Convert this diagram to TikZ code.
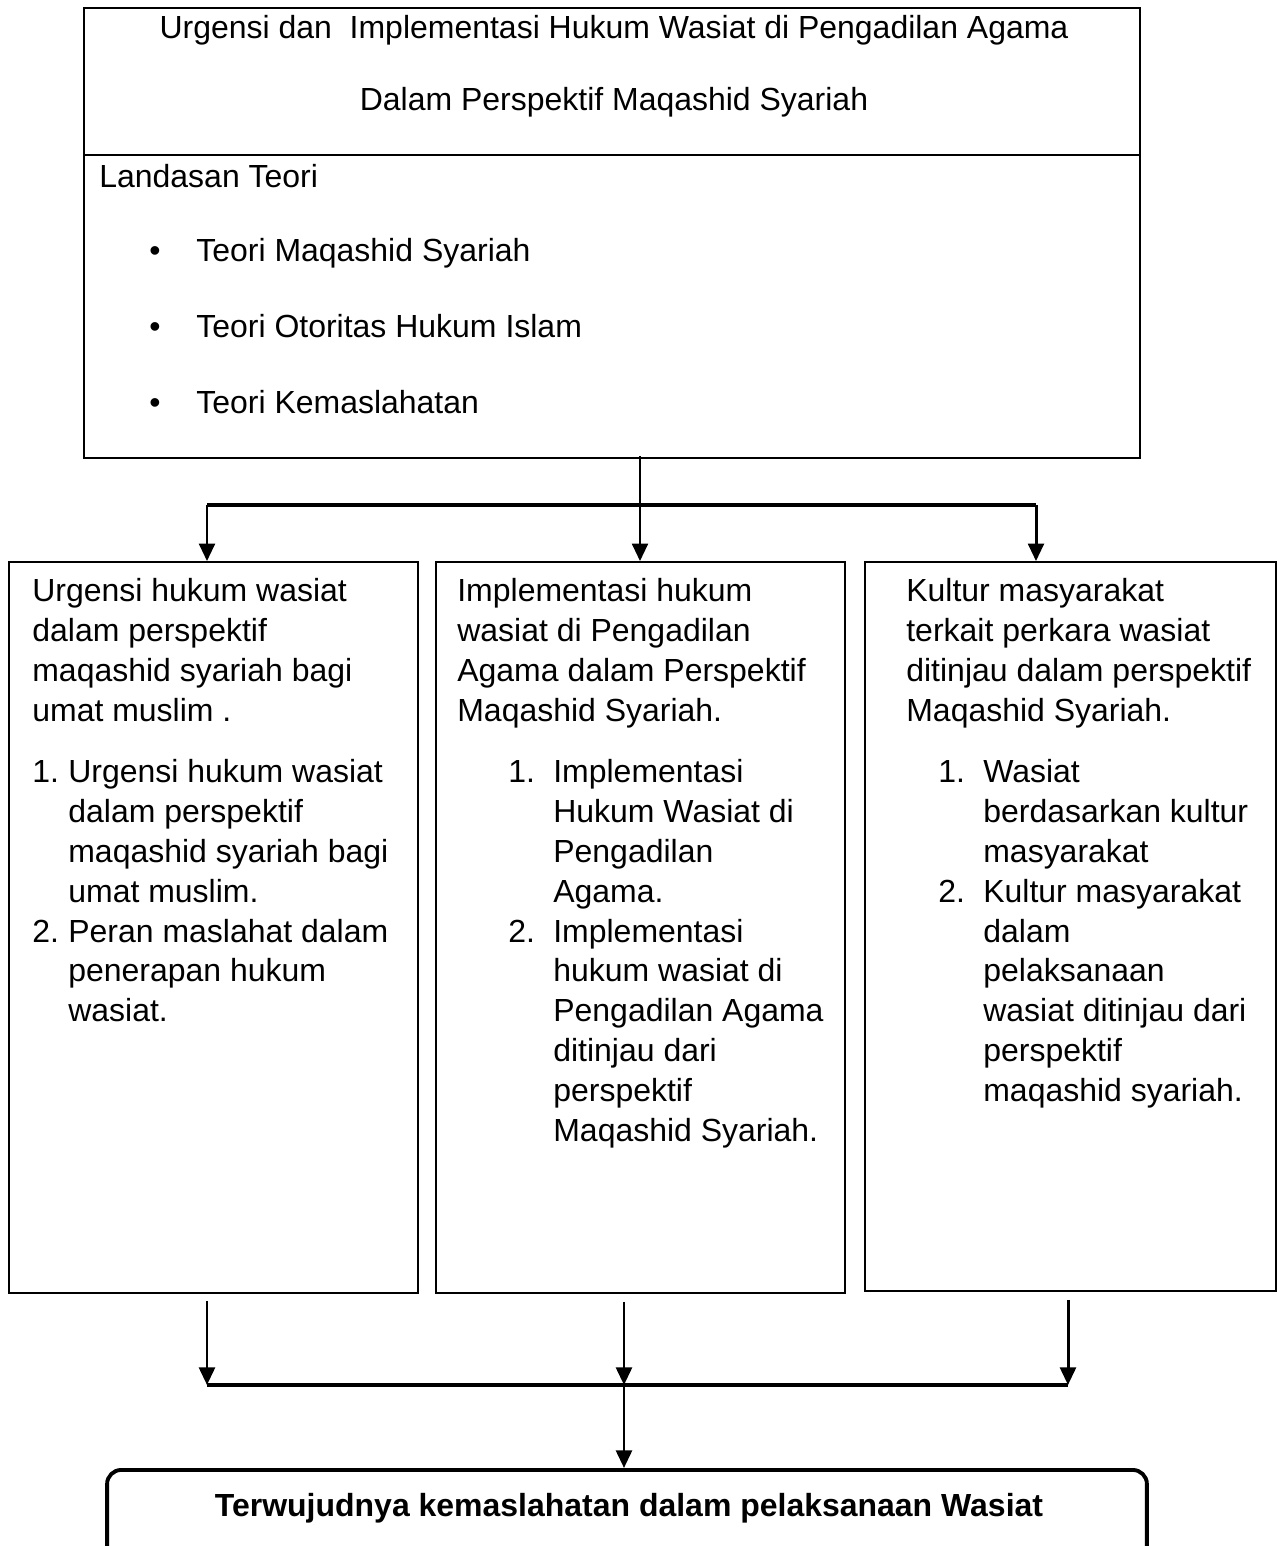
\documentclass[tikz,border=0pt]{standalone}
\usepackage{fontspec}
\setmainfont{Liberation Sans}
\usetikzlibrary{arrows.meta}

\newcommand{\rows}[1]{\begin{tabular}[t]{@{}l@{}}#1\end{tabular}}
\newcommand{\numrows}[2]{\begin{tabular}[t]{@{}p{#1}@{}l@{}}#2\end{tabular}}

\begin{document}
\begin{tikzpicture}[x=0.02cm, y=-0.02cm,
  panel/.style={draw, line width=1.1pt, minimum width=8.18cm, minimum height=14.62cm, inner sep=0pt},
  txt/.style={anchor=base west, inner sep=0pt, font=\fontsize{18.2pt}{22.7pt}\selectfont},
  wire/.style={line width=2.2pt},
  arr/.style={line width=1.7pt, -{Triangle[length=10pt,width=9pt]}}
]
  \useasboundingbox (0,0) rectangle (1277,1546);

  % top frame
  \node[draw, line width=1.1pt, minimum width=21.12cm, minimum height=9cm, inner sep=0pt] (frame) at (612,233) {};
  \coordinate (divL) at (84,155);
  \draw[line width=1.1pt] (divL) -- (divL -| frame.east);
  \node[txt, anchor=base] (title) at (614,38.5)
    {\begin{tabular}[t]{@{}c@{}}Urgensi dan\ \ Implementasi Hukum Wasiat di Pengadilan Agama\\[0.64cm]
     Dalam Perspektif Maqashid Syariah\end{tabular}};
  \node[txt] (theory) at (99,187.5) {Landasan Teori};
  \node[txt] (theories) at (149,261.5)
    {\numrows{0.94cm}{\textbullet & Teori Maqashid Syariah\\[0.72cm]
     \textbullet & Teori Otoritas Hukum Islam\\[0.72cm]
     \textbullet & Teori Kemaslahatan}};

  % three panels
  \node[panel] (urg) at (213.5,927.5) {};
  \node[panel] (impl) at (640.5,927.5) {};
  \node[panel, minimum width=8.22cm, minimum height=14.58cm] (kult) at (1070.5,926.5) {};

  \node[txt] (urgHead) at (32,601.5)
    {\rows{Urgensi hukum wasiat\\ dalam perspektif\\ maqashid syariah bagi\\ umat muslim .}};
  \node[txt] (urgList) at (32,782.5)
    {\numrows{0.72cm}{1. & Urgensi hukum wasiat\\ & dalam perspektif\\ & maqashid syariah bagi\\ & umat muslim.\\
     2. & Peran maslahat dalam\\ & penerapan hukum\\ & wasiat.}};

  \node[txt] (implHead) at (457,601.5)
    {\rows{Implementasi hukum\\ wasiat di Pengadilan\\ Agama dalam Perspektif\\ Maqashid Syariah.}};
  \node[txt] (implList) at (508,782.5)
    {\numrows{0.9cm}{1. & Implementasi\\ & Hukum Wasiat di\\ & Pengadilan\\ & Agama.\\
     2. & Implementasi\\ & hukum wasiat di\\ & Pengadilan Agama\\ & ditinjau dari\\ & perspektif\\ & Maqashid Syariah.}};

  \node[txt] (kultHead) at (906,601.5)
    {\rows{Kultur masyarakat\\ terkait perkara wasiat\\ ditinjau dalam perspektif\\ Maqashid Syariah.}};
  \node[txt] (kultList) at (938,782.5)
    {\numrows{0.9cm}{1. & Wasiat\\ & berdasarkan kultur\\ & masyarakat\\
     2. & Kultur masyarakat\\ & dalam\\ & pelaksanaan\\ & wasiat ditinjau dari\\ & perspektif\\ & maqashid syariah.}};

  % result
  \node[draw, line width=2.2pt, rounded corners=8pt, minimum width=20.8cm, inner sep=0pt,
    text height=0.94cm, text depth=1.6cm, anchor=north,
    font=\fontsize{18.2pt}{22.7pt}\selectfont\bfseries] (result) at (627,1468)
    {\hspace*{0.08cm}Terwujudnya kemaslahatan dalam pelaksanaan Wasiat};

  % fan out
  \coordinate (split) at (640,505);
  \coordinate (bL) at (207,505);
  \coordinate (bR) at (1036,505);
  \draw[line width=1.7pt] (frame.south -| split) ++(0,-3) -- (split);
  \draw[wire] (bL) -- (bR);
  \draw[arr] (bL) -- (bL |- urg.north);
  \draw[arr] (split) -- (split |- impl.north);
  \draw[arr] (bR) -- (bR |- kult.north);

  % fan in
  \coordinate (jL) at (207,1385);
  \coordinate (jM) at (624,1385);
  \coordinate (jR) at (1068,1385);
  \draw[arr, shorten <=0.14cm] (jL |- urg.south) -- (jL);
  \draw[arr, shorten <=0.16cm] (jM |- impl.south) -- (jM);
  \draw[arr, shorten <=0.16cm] (jR |- kult.south) -- (jR);
  \draw[wire] (jL) -- (jR);
  \draw[arr] (jM) -- (jM |- result.north);
\end{tikzpicture}
\end{document}
